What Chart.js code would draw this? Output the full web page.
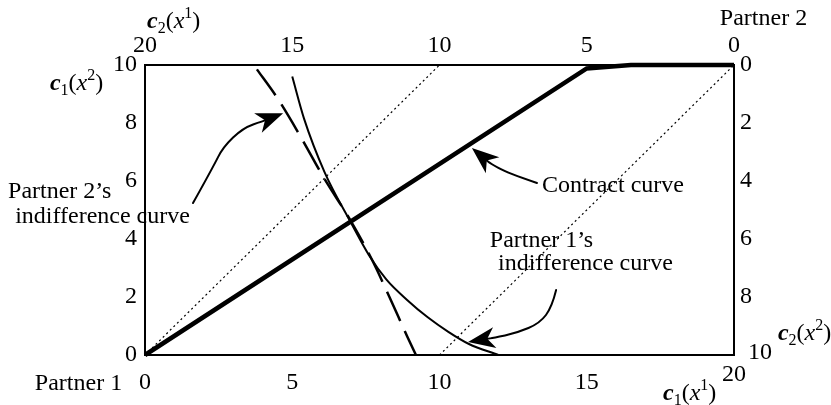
<!DOCTYPE html>
<html><head><meta charset="utf-8">
<script src="https://cdn.jsdelivr.net/npm/chart.js@4/dist/chart.umd.min.js"></script>
<style>html,body{margin:0;padding:0;background:#fff}#wrap{width:831px;height:405px}</style>
</head><body><div id="wrap"><canvas id="c" width="831" height="405"></canvas></div>
<script>
// ---- data ----
const xTicks = [0, 5, 10, 15, 20];          // c1(x1), bottom
const topTicks = [20, 15, 10, 5, 0];        // c2(x1), top (reversed)
const yTicks = [0, 2, 4, 6, 8, 10];         // c1(x2), left
const rightTicks = [0, 2, 4, 6, 8, 10];     // c2(x2), right (reversed)

const contractX = [0, 15, 16.5, 20];
const contractY = [0, 9.88, 10, 10];

const p1X = [5.0, 5.4, 6.1, 7.0, 7.6, 8.2, 8.9, 9.6, 10.3, 11.0, 12.0];
const p1Y = [9.6, 8.15, 6.3, 4.55, 3.45, 2.6, 1.9, 1.3, 0.8, 0.38, 0.0];

const p2X = [3.8, 4.5, 5.3, 6.05, 7.0, 7.7, 8.3, 8.9, 9.2];
const p2Y = [9.85, 8.85, 7.5, 6.15, 4.6, 3.3, 2.0, 0.65, 0.0];

const diag1X = [0, 10], diag1Y = [0, 10];
const diag2X = [10, 20], diag2Y = [0, 10];

// annotation arrows (data units): stem points then tip
const arrowP2X = [1.63, 2.31, 2.65, 3.33, 4.01, 4.69];
const arrowP2Y = [5.24, 6.48, 7.17, 7.83, 8.07, 8.34];
const arrowCCX = [13.31, 12.29, 11.71, 11.10];
const arrowCCY = [5.93, 6.28, 6.62, 7.14];
const arrowP1X = [13.96, 13.82, 13.41, 12.63, 11.82, 10.97];
const arrowP1Y = [2.24, 1.66, 1.10, 0.76, 0.59, 0.45];

const labelTexts = ["Partner 2\u2019s", "indifference curve", "Contract curve", "Partner 1\u2019s", "indifference curve", "Partner 1", "Partner 2"];
const labelX = [-4.65, -4.41, 13.48, 11.71, 11.99, -3.74, 19.52];
const labelY = [5.41, 4.55, 5.62, 3.72, 2.93, -1.21, 11.38];

// axis titles: [main letter, subscript, variable, superscript]
const axisTitleParts = [["c","2","x","1"], ["c","1","x","2"], ["c","2","x","2"], ["c","1","x","1"]];
const axisTitleX = [0.07, -3.23, 21.49, 17.59];
const axisTitleY = [11.28, 9.14, 0.52, -1.55];

// ---- build ----
const pts = (xs, ys) => xs.map((v, i) => ({x: v, y: ys[i]}));
const FONT = '"Liberation Serif", "Times New Roman", serif';
Chart.defaults.font.family = FONT;
Chart.defaults.font.size = 24;
Chart.defaults.color = '#000';

const datasets = [
  {data: pts(diag1X, diag1Y), borderColor: '#000', borderWidth: 1.2, borderDash: [2, 3]},
  {data: pts(diag2X, diag2Y), borderColor: '#000', borderWidth: 1.2, borderDash: [2, 3]},
  {data: pts(p2X, p2Y), borderColor: '#000', borderWidth: 2.5, borderDash: [32, 11], cubicInterpolationMode: 'monotone'},
  {data: pts(p1X, p1Y), borderColor: '#000', borderWidth: 2, cubicInterpolationMode: 'monotone'},
  {data: pts(contractX, contractY), borderColor: '#000', borderWidth: 4.5, tension: 0},
].map(d => Object.assign({showLine: true, pointRadius: 0, fill: false, clip: false, borderCapStyle: 'butt'}, d));

function drawArrow(ctx, xs, ys, sx, sy) {
  const P = xs.map((v, i) => [sx.getPixelForValue(v), sy.getPixelForValue(ys[i])]);
  const tip = P[P.length - 1];
  const prev = P[P.length - 2];
  let dx = tip[0] - prev[0], dy = tip[1] - prev[1];
  const d = Math.hypot(dx, dy); dx /= d; dy /= d;
  const L = 27, W = 10.5;
  const bx = tip[0] - L * dx, by = tip[1] - L * dy;
  const nx = -dy, ny = dx;
  const notchX = tip[0] - 0.72 * L * dx, notchY = tip[1] - 0.72 * L * dy;
  ctx.beginPath();
  ctx.lineWidth = 2; ctx.strokeStyle = '#000'; ctx.lineJoin = 'round'; ctx.lineCap = 'round';
  const stem = P.slice(0, -1).concat([[notchX, notchY]]);
  ctx.moveTo(stem[0][0], stem[0][1]);
  for (let i = 1; i < stem.length - 1; i++) {
    const mx = (stem[i][0] + stem[i + 1][0]) / 2, my = (stem[i][1] + stem[i + 1][1]) / 2;
    ctx.quadraticCurveTo(stem[i][0], stem[i][1], mx, my);
  }
  ctx.lineTo(stem[stem.length - 1][0], stem[stem.length - 1][1]);
  ctx.stroke();
  ctx.beginPath();
  ctx.fillStyle = '#000';
  ctx.moveTo(tip[0], tip[1]);
  ctx.lineTo(bx + W * nx, by + W * ny);
  ctx.lineTo(notchX, notchY);
  ctx.lineTo(bx - W * nx, by - W * ny);
  ctx.closePath();
  ctx.fill();
}

function drawMath(ctx, x, y, parts) {
  const seq = [
    {t: parts[0], f: 'italic bold 24px ' + FONT, dy: 0},
    {t: parts[1], f: '16px ' + FONT, dy: 5},
    {t: '(', f: '24px ' + FONT, dy: 0},
    {t: parts[2], f: 'italic 24px ' + FONT, dy: 0},
    {t: parts[3], f: '16px ' + FONT, dy: -10},
    {t: ')', f: '24px ' + FONT, dy: 0},
  ];
  let cx = x;
  seq.forEach(s => {
    ctx.font = s.f;
    ctx.fillText(s.t, cx, y + s.dy);
    cx += ctx.measureText(s.t).width;
  });
}

const annot = {
  id: 'annot',
  afterDraw(chart) {
    const {ctx, scales} = chart;
    const sx = scales.x, sy = scales.y, sy2 = scales.y2;
    ctx.save();
    drawArrow(ctx, arrowP2X, arrowP2Y, sx, sy);
    drawArrow(ctx, arrowCCX, arrowCCY, sx, sy);
    drawArrow(ctx, arrowP1X, arrowP1Y, sx, sy);
    ctx.fillStyle = '#000';
    ctx.textAlign = 'left';
    ctx.textBaseline = 'alphabetic';
    ctx.font = '24px ' + FONT;
    labelTexts.forEach((t, i) => ctx.fillText(t, sx.getPixelForValue(labelX[i]), sy.getPixelForValue(labelY[i])));
    axisTitleParts.forEach((p, i) => drawMath(ctx, sx.getPixelForValue(axisTitleX[i]), sy.getPixelForValue(axisTitleY[i]), p));
    // corner tick labels sit slightly offset in the original
    ctx.font = '24px ' + FONT;
    ctx.textAlign = 'center';
    ctx.textBaseline = 'middle';
    const lastX = xTicks[xTicks.length - 1];
    ctx.fillText(String(lastX), sx.getPixelForValue(lastX), sx.top + 20);
    const lastY = rightTicks[rightTicks.length - 1];
    ctx.textAlign = 'left';
    ctx.fillText(String(lastY), sy2.left + 14, sy2.getPixelForValue(lastY) - 2);
    ctx.restore();
  }
};

const axisCommon = {
  type: 'linear',
  grid: {display: false, drawTicks: false},
  border: {display: true, color: '#000', width: 2},
};
const tickFont = {size: 24, family: FONT};

new Chart(document.getElementById('c'), {
  type: 'scatter',
  data: {datasets},
  options: {
    responsive: false, animation: false, devicePixelRatio: 1,
    layout: {padding: 0},
    plugins: {legend: {display: false}, tooltip: {enabled: false}},
    scales: {
      x: Object.assign({}, axisCommon, {
        position: 'bottom', min: 0, max: 20,
        afterBuildTicks: s => { s.ticks = xTicks.map(v => ({value: v})); },
        afterFit: s => { s.height = 50; },
        ticks: {padding: 13, color: '#000', font: tickFont, maxRotation: 0, autoSkip: false,
                callback: v => (v === xTicks[xTicks.length - 1] ? '' : String(v))}
      }),
      x2: Object.assign({}, axisCommon, {
        position: 'top', min: 0, max: 20, reverse: true,
        afterBuildTicks: s => { s.ticks = topTicks.map(v => ({value: v})); },
        afterFit: s => { s.height = 65; },
        ticks: {padding: 5, color: '#000', font: tickFont, maxRotation: 0, autoSkip: false}
      }),
      y: Object.assign({}, axisCommon, {
        position: 'left', min: 0, max: 10,
        afterBuildTicks: s => { s.ticks = yTicks.map(v => ({value: v})); },
        afterFit: s => { s.width = 145; },
        ticks: {padding: 8, color: '#000', font: tickFont, autoSkip: false}
      }),
      y2: Object.assign({}, axisCommon, {
        position: 'right', min: 0, max: 10, reverse: true,
        afterBuildTicks: s => { s.ticks = rightTicks.map(v => ({value: v})); },
        afterFit: s => { s.width = 97; },
        ticks: {padding: 6, color: '#000', font: tickFont, autoSkip: false,
                callback: v => (v === rightTicks[rightTicks.length - 1] ? '' : String(v))}
      })
    }
  },
  plugins: [annot]
});
</script></body></html>
